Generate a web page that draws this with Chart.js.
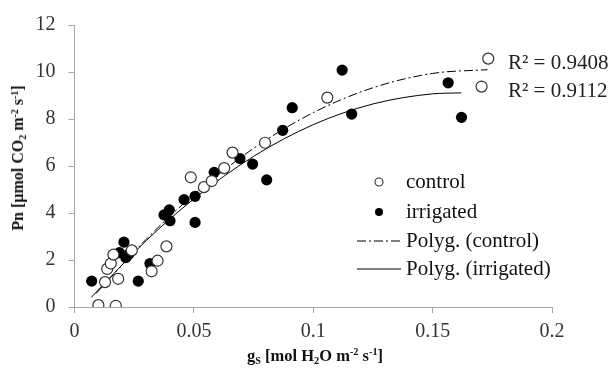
<!DOCTYPE html>
<html>
<head>
<meta charset="utf-8">
<script src="https://cdn.jsdelivr.net/npm/chart.js@4/dist/chart.umd.min.js"></script>
<style>
  body { margin: 0; background: #fff; }
  #wrap { position: relative; width: 611px; height: 376px; font-family: 'Liberation Serif', 'Times New Roman', serif; color: #111; }
  canvas { position: absolute; left: 0; top: 0; }
  .title { position: absolute; font-weight: bold; white-space: nowrap; line-height: 1; }
  .title sub, .title sup { font-size: 0.62em; line-height: 0; position: relative; vertical-align: baseline; }
  .title sup { top: -0.55em; }
  .title sub { top: 0.3em; }
  #xtitle { left: 315px; top: 356px; font-size: 16.5px; transform: translate(-50%, -50%); }
  #ytitle { left: 18px; top: 158px; font-size: 16px; transform: translate(-50%, -50%) rotate(-90deg); }
  .r2 { position: absolute; left: 508px; font-size: 21px; color: #222; transform: translateY(-50%); white-space: nowrap; line-height: 1; }
</style>
</head>
<body>
<div id="wrap">
  <canvas id="chart" width="611" height="376"></canvas>
  <div class="title" id="ytitle">Pn [µmol CO<sub>2</sub> m<sup>-2</sup> s<sup>-1</sup>]</div>
  <div class="title" id="xtitle">g<sub>S</sub> [mol H<sub>2</sub>O m<sup>-2</sup> s<sup>-1</sup>]</div>
  <div class="r2" id="r2-control" style="top:62px;">R² = 0.9408</div>
  <div class="r2" id="r2-irrigated" style="top:90px;">R² = 0.9112</div>
</div>
<script>
// --- Data ---
const controlGs = [0.010, 0.0173, 0.0128, 0.0183, 0.0137, 0.0152, 0.0163, 0.024, 0.0323, 0.0348, 0.0385,
    0.0487, 0.0542, 0.0575, 0.0627, 0.0662, 0.0798, 0.1059, 0.1705, 0.1733];
const controlPn = [0.08, 0.05, 1.06, 1.2, 1.62, 1.85, 2.23, 2.41, 1.52, 1.97, 2.58,
    5.52, 5.1, 5.36, 5.91, 6.57, 6.99, 8.91, 9.38, 10.57];

const irrigatedGs = [0.0072, 0.0188, 0.0207, 0.0215, 0.0228, 0.0267, 0.0316, 0.0375, 0.0397, 0.040, 0.0459,
    0.0505, 0.0505, 0.0585, 0.0693, 0.0746, 0.0805, 0.0872, 0.0912, 0.1121, 0.1161, 0.1565, 0.1621];
const irrigatedPn = [1.1, 2.31, 2.76, 2.1, 2.25, 1.1, 1.85, 3.92, 4.13, 3.67, 4.57,
    4.71, 3.6, 5.73, 6.32, 6.08, 5.41, 7.52, 8.48, 10.08, 8.21, 9.54, 8.07];

// polynomial trend lines
const trendControlGs = [0.009, 0.03, 0.05, 0.075, 0.1, 0.125, 0.15, 0.173];
const trendControlPn = [0.57, 2.88, 4.78, 6.75, 8.27, 9.33, 9.94, 10.10];
const trendIrrigatedGs = [0.007, 0.03, 0.05, 0.075, 0.1, 0.125, 0.15, 0.162];
const trendIrrigatedPn = [0.41, 2.82, 4.60, 6.41, 7.76, 8.64, 9.07, 9.11];

const xTickLabels = ['0', '0.05', '0.1', '0.15', '0.2'];
const yTickLabels = ['0', '2', '4', '6', '8', '10', '12'];

const legendLabels = ['control', 'irrigated', 'Polyg. (control)', 'Polyg. (irrigated)'];

const toPoints = (xs, ys) => xs.map((x, i) => ({ x: x, y: ys[i] }));

const SERIF = "'Liberation Serif', 'Times New Roman', serif";
const AXIS_COLOR = '#a6a6a6';
const DASH_DOT = [9, 3, 2, 3];

// --- Legend drawn inside the plot area ---
const insideLegend = {
    id: 'insideLegend',
    afterDatasetsDraw(chart) {
        const ctx = chart.ctx;
        const markX = 379, textX = 406;
        const rows = [182, 212, 241, 269];
        ctx.save();
        ctx.font = '21px ' + SERIF;
        ctx.fillStyle = '#111';
        ctx.textBaseline = 'middle';
        ctx.textAlign = 'left';
        legendLabels.forEach((label, i) => ctx.fillText(label, textX, rows[i]));

        // open circle
        ctx.beginPath();
        ctx.arc(markX, rows[0], 4, 0, Math.PI * 2);
        ctx.fillStyle = '#fff';
        ctx.fill();
        ctx.lineWidth = 1.1;
        ctx.strokeStyle = '#333';
        ctx.stroke();
        // filled circle
        ctx.beginPath();
        ctx.arc(markX, rows[1], 4, 0, Math.PI * 2);
        ctx.fillStyle = '#000';
        ctx.fill();
        // dash-dot line
        ctx.lineWidth = 1;
        ctx.strokeStyle = '#000';
        ctx.setLineDash(DASH_DOT);
        ctx.beginPath();
        ctx.moveTo(357, rows[2]);
        ctx.lineTo(401, rows[2]);
        ctx.stroke();
        // solid line
        ctx.setLineDash([]);
        ctx.beginPath();
        ctx.moveTo(357, rows[3]);
        ctx.lineTo(401, rows[3]);
        ctx.stroke();
        ctx.restore();
    }
};

const ctx = document.getElementById('chart').getContext('2d');
new Chart(ctx, {
    type: 'scatter',
    data: {
        datasets: [
            {
                label: 'Polyg. (control)',
                data: toPoints(trendControlGs, trendControlPn),
                showLine: true,
                borderColor: '#000',
                borderWidth: 1,
                borderDash: DASH_DOT,
                pointRadius: 0,
                cubicInterpolationMode: 'monotone',
                order: 3
            },
            {
                label: 'Polyg. (irrigated)',
                data: toPoints(trendIrrigatedGs, trendIrrigatedPn),
                showLine: true,
                borderColor: '#000',
                borderWidth: 1,
                pointRadius: 0,
                cubicInterpolationMode: 'monotone',
                order: 2
            },
            {
                label: 'irrigated',
                data: toPoints(irrigatedGs, irrigatedPn),
                pointRadius: 5.6,
                pointBackgroundColor: '#000',
                pointBorderColor: '#000',
                pointBorderWidth: 0,
                order: 1
            },
            {
                label: 'control',
                data: toPoints(controlGs, controlPn),
                pointRadius: 5.5,
                pointBackgroundColor: '#fff',
                pointBorderColor: '#333',
                pointBorderWidth: 1.2,
                order: 0
            }
        ]
    },
    options: {
        responsive: false,
        animation: false,
        layout: { padding: { left: 0, right: 59, top: 20, bottom: 0 } },
        plugins: {
            legend: { display: false },
            tooltip: { enabled: false }
        },
        scales: {
            x: {
                type: 'linear',
                min: 0,
                max: 0.2,
                afterFit: (scale) => { scale.height = 69; },
                afterBuildTicks: (scale) => {
                    scale.ticks = xTickLabels.map(v => ({ value: parseFloat(v) }));
                },
                ticks: {
                    callback: (value, index) => xTickLabels[index],
                    font: { family: SERIF, size: 20 },
                    color: '#333',
                    padding: 7,
                    maxRotation: 0
                },
                grid: { drawOnChartArea: false, drawTicks: true, tickLength: 6, color: AXIS_COLOR },
                border: { color: AXIS_COLOR, width: 1 }
            },
            y: {
                type: 'linear',
                min: 0,
                max: 12,
                afterFit: (scale) => { scale.width = 74.5; },
                afterBuildTicks: (scale) => {
                    scale.ticks = yTickLabels.map(v => ({ value: parseFloat(v) }));
                },
                ticks: {
                    callback: (value, index) => yTickLabels[index],
                    font: { family: SERIF, size: 20 },
                    color: '#333',
                    padding: 13
                },
                grid: { drawOnChartArea: false, drawTicks: true, tickLength: 6, color: AXIS_COLOR },
                border: { color: AXIS_COLOR, width: 1 }
            }
        }
    },
    plugins: [insideLegend]
});
</script>
</body>
</html>
